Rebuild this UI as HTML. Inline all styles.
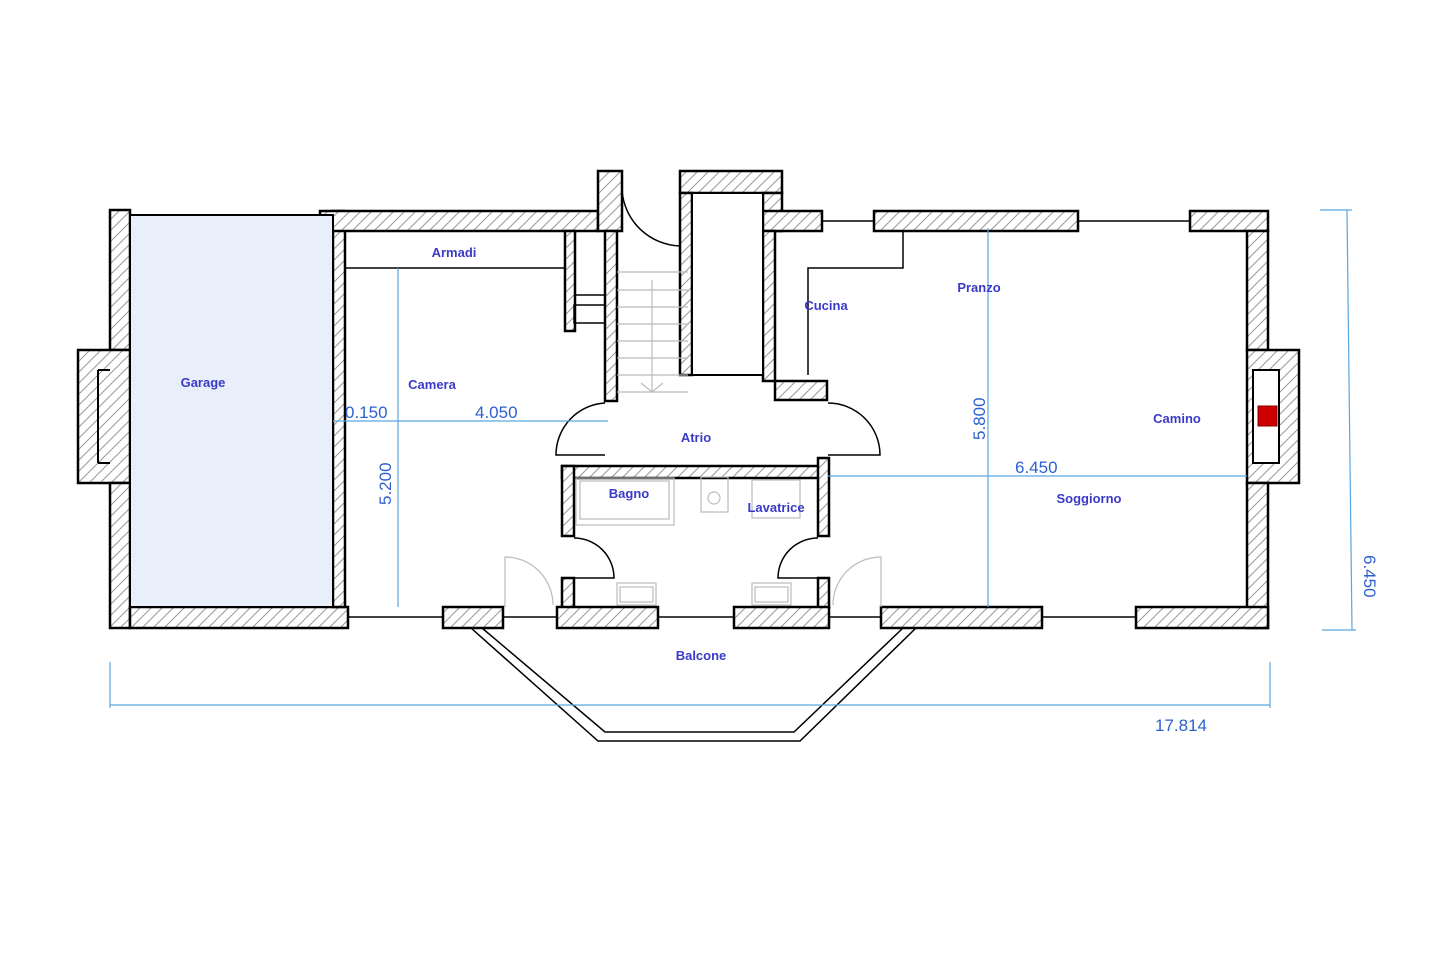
<!DOCTYPE html>
<html><head><meta charset="utf-8"><style>html,body{margin:0;padding:0;background:#fff}svg{display:block}text{font-family:"Liberation Sans",sans-serif}</style></head><body>
<svg width="1440" height="960" viewBox="0 0 1440 960" xmlns="http://www.w3.org/2000/svg">
<defs><pattern id="h" width="11" height="11" patternUnits="userSpaceOnUse"><rect width="11" height="11" fill="#fff"/><path d="M0 11L11 0M-2 2L2 -2M9 13L13 9" stroke="#999" stroke-width="1"/></pattern></defs>
<g stroke="#000" stroke-width="2.5" fill="url(#h)">
<path d="M110 210 H130 V350 H110 Z"/>
<path d="M78 350 H130 V483 H78 Z"/>
<path d="M110 483 H130 V628 H110 Z"/>
<rect x="130" y="607" width="218" height="21"/>
<rect x="333" y="211" width="12" height="396"/>
<rect x="320" y="211" width="278" height="20"/>
<rect x="598" y="171" width="24" height="60"/>
<rect x="565" y="231" width="10" height="100"/>
<rect x="605" y="231" width="12" height="170"/>
<rect x="680" y="171" width="102" height="22"/>
<rect x="680" y="193" width="12" height="182"/>
<rect x="763" y="193" width="19" height="38"/>
<rect x="763" y="211" width="59" height="20"/>
<rect x="763" y="231" width="12" height="150"/>
<rect x="775" y="381" width="52" height="19"/>
<rect x="874" y="211" width="204" height="20"/>
<rect x="1190" y="211" width="78" height="20"/>
<rect x="1247" y="231" width="21" height="119"/>
<path d="M1247 350 H1299 V483 H1247 Z"/>
<rect x="1247" y="483" width="21" height="145"/>
<rect x="562" y="466" width="266" height="12"/>
<rect x="562" y="466" width="12" height="70"/>
<rect x="818" y="458" width="11" height="78"/>
<rect x="562" y="578" width="12" height="30"/>
<rect x="818" y="578" width="11" height="30"/>
<rect x="443" y="607" width="60" height="21"/>
<rect x="557" y="607" width="101" height="21"/>
<rect x="734" y="607" width="95" height="21"/>
<rect x="881" y="607" width="161" height="21"/>
<rect x="1136" y="607" width="132" height="21"/>
</g>
<path d="M98 370 V463 M98 370 H110 M98 463 H110" stroke="#000" stroke-width="2" fill="none"/>
<rect x="130" y="215" width="203" height="392" fill="#e9effa" stroke="#000" stroke-width="2"/>
<rect x="692" y="193" width="71" height="182" fill="#fff" stroke="#000" stroke-width="2"/>
<rect x="1253" y="370" width="26" height="93" fill="#fff" stroke="#000" stroke-width="2"/>
<rect x="1258" y="406" width="19" height="20" fill="#c00" stroke="#800"/>
<g stroke="#000" stroke-width="1.5" fill="none">
<path d="M345 268 H565"/><path d="M575 231 H605 V295 H575 Z"/><rect x="574" y="305" width="31" height="18"/>
<path d="M808 375 V268 H903 V231"/>
<path d="M348 617 H443 M503 617 H557 M658 617 H734 M829 617 H881 M1042 617 H1136 M822 221 H874 M1078 221 H1190"/>
<path d="M471 628 L598 741 H800 L916 628 M482 628 L605 732 H794 L903 628"/>
<path d="M622 190 A60 60 0 0 0 680 246"/>
<path d="M605 403 A52 52 0 0 0 556 455 H605 M828 403 A52 52 0 0 1 880 455 H828"/>
<path d="M574 538 A40 40 0 0 1 614 578 H574 M818 538 A40 40 0 0 0 778 578 H818"/>
</g>
<g stroke="#bbb" stroke-width="1.2" fill="none">
<path d="M617 272 H688 M617 290 H688 M617 307 H688 M617 324 H688 M617 341 H688 M617 358 H688 M617 375 H688 M617 392 H688"/><path d="M652 280 V392 M641 383 L652 392 L663 383"/>
<rect x="576" y="478" width="98" height="47"/><rect x="580" y="481" width="89" height="38"/>
<rect x="701" y="477" width="27" height="35"/><circle cx="714" cy="498" r="6"/>
<rect x="752" y="480" width="48" height="38"/>
<rect x="617" y="583" width="39" height="22"/><rect x="620" y="587" width="33" height="15"/>
<rect x="752" y="583" width="39" height="22"/><rect x="755" y="587" width="33" height="15"/>
<path d="M505 607 V557 A48 48 0 0 1 553 605 M881 607 V557 A48 48 0 0 0 833 605"/>
</g>
<g stroke="#5aa6e0" stroke-width="1.2" fill="none">
<path d="M333 421 H608 M398 268 V607 M988 228 V607 M828 476 H1247 M1320 210 H1352 M1347 210 L1352 630 M1322 630 H1356 M110 662 V708 M1270 662 V708 M110 705 H1270"/>
</g>
<g fill="#3a3ac8" font-size="13" font-weight="bold" text-anchor="middle">
<text x="203" y="387">Garage</text><text x="432" y="389">Camera</text><text x="454" y="257">Armadi</text>
<text x="826" y="310">Cucina</text><text x="979" y="292">Pranzo</text><text x="1177" y="423">Camino</text>
<text x="696" y="442">Atrio</text><text x="629" y="498">Bagno</text><text x="776" y="512">Lavatrice</text>
<text x="1089" y="503">Soggiorno</text><text x="701" y="660">Balcone</text>
</g>
<g fill="#2c5fd0" font-size="17">
<text x="345" y="418">0.150</text><text x="475" y="418">4.050</text><text x="1015" y="473">6.450</text><text x="1155" y="731">17.814</text>
<text transform="translate(391 505) rotate(-90)">5.200</text>
<text transform="translate(985 440) rotate(-90)">5.800</text>
<text transform="translate(1364 555) rotate(90)">6.450</text>
</g>
</svg>
</body></html>
